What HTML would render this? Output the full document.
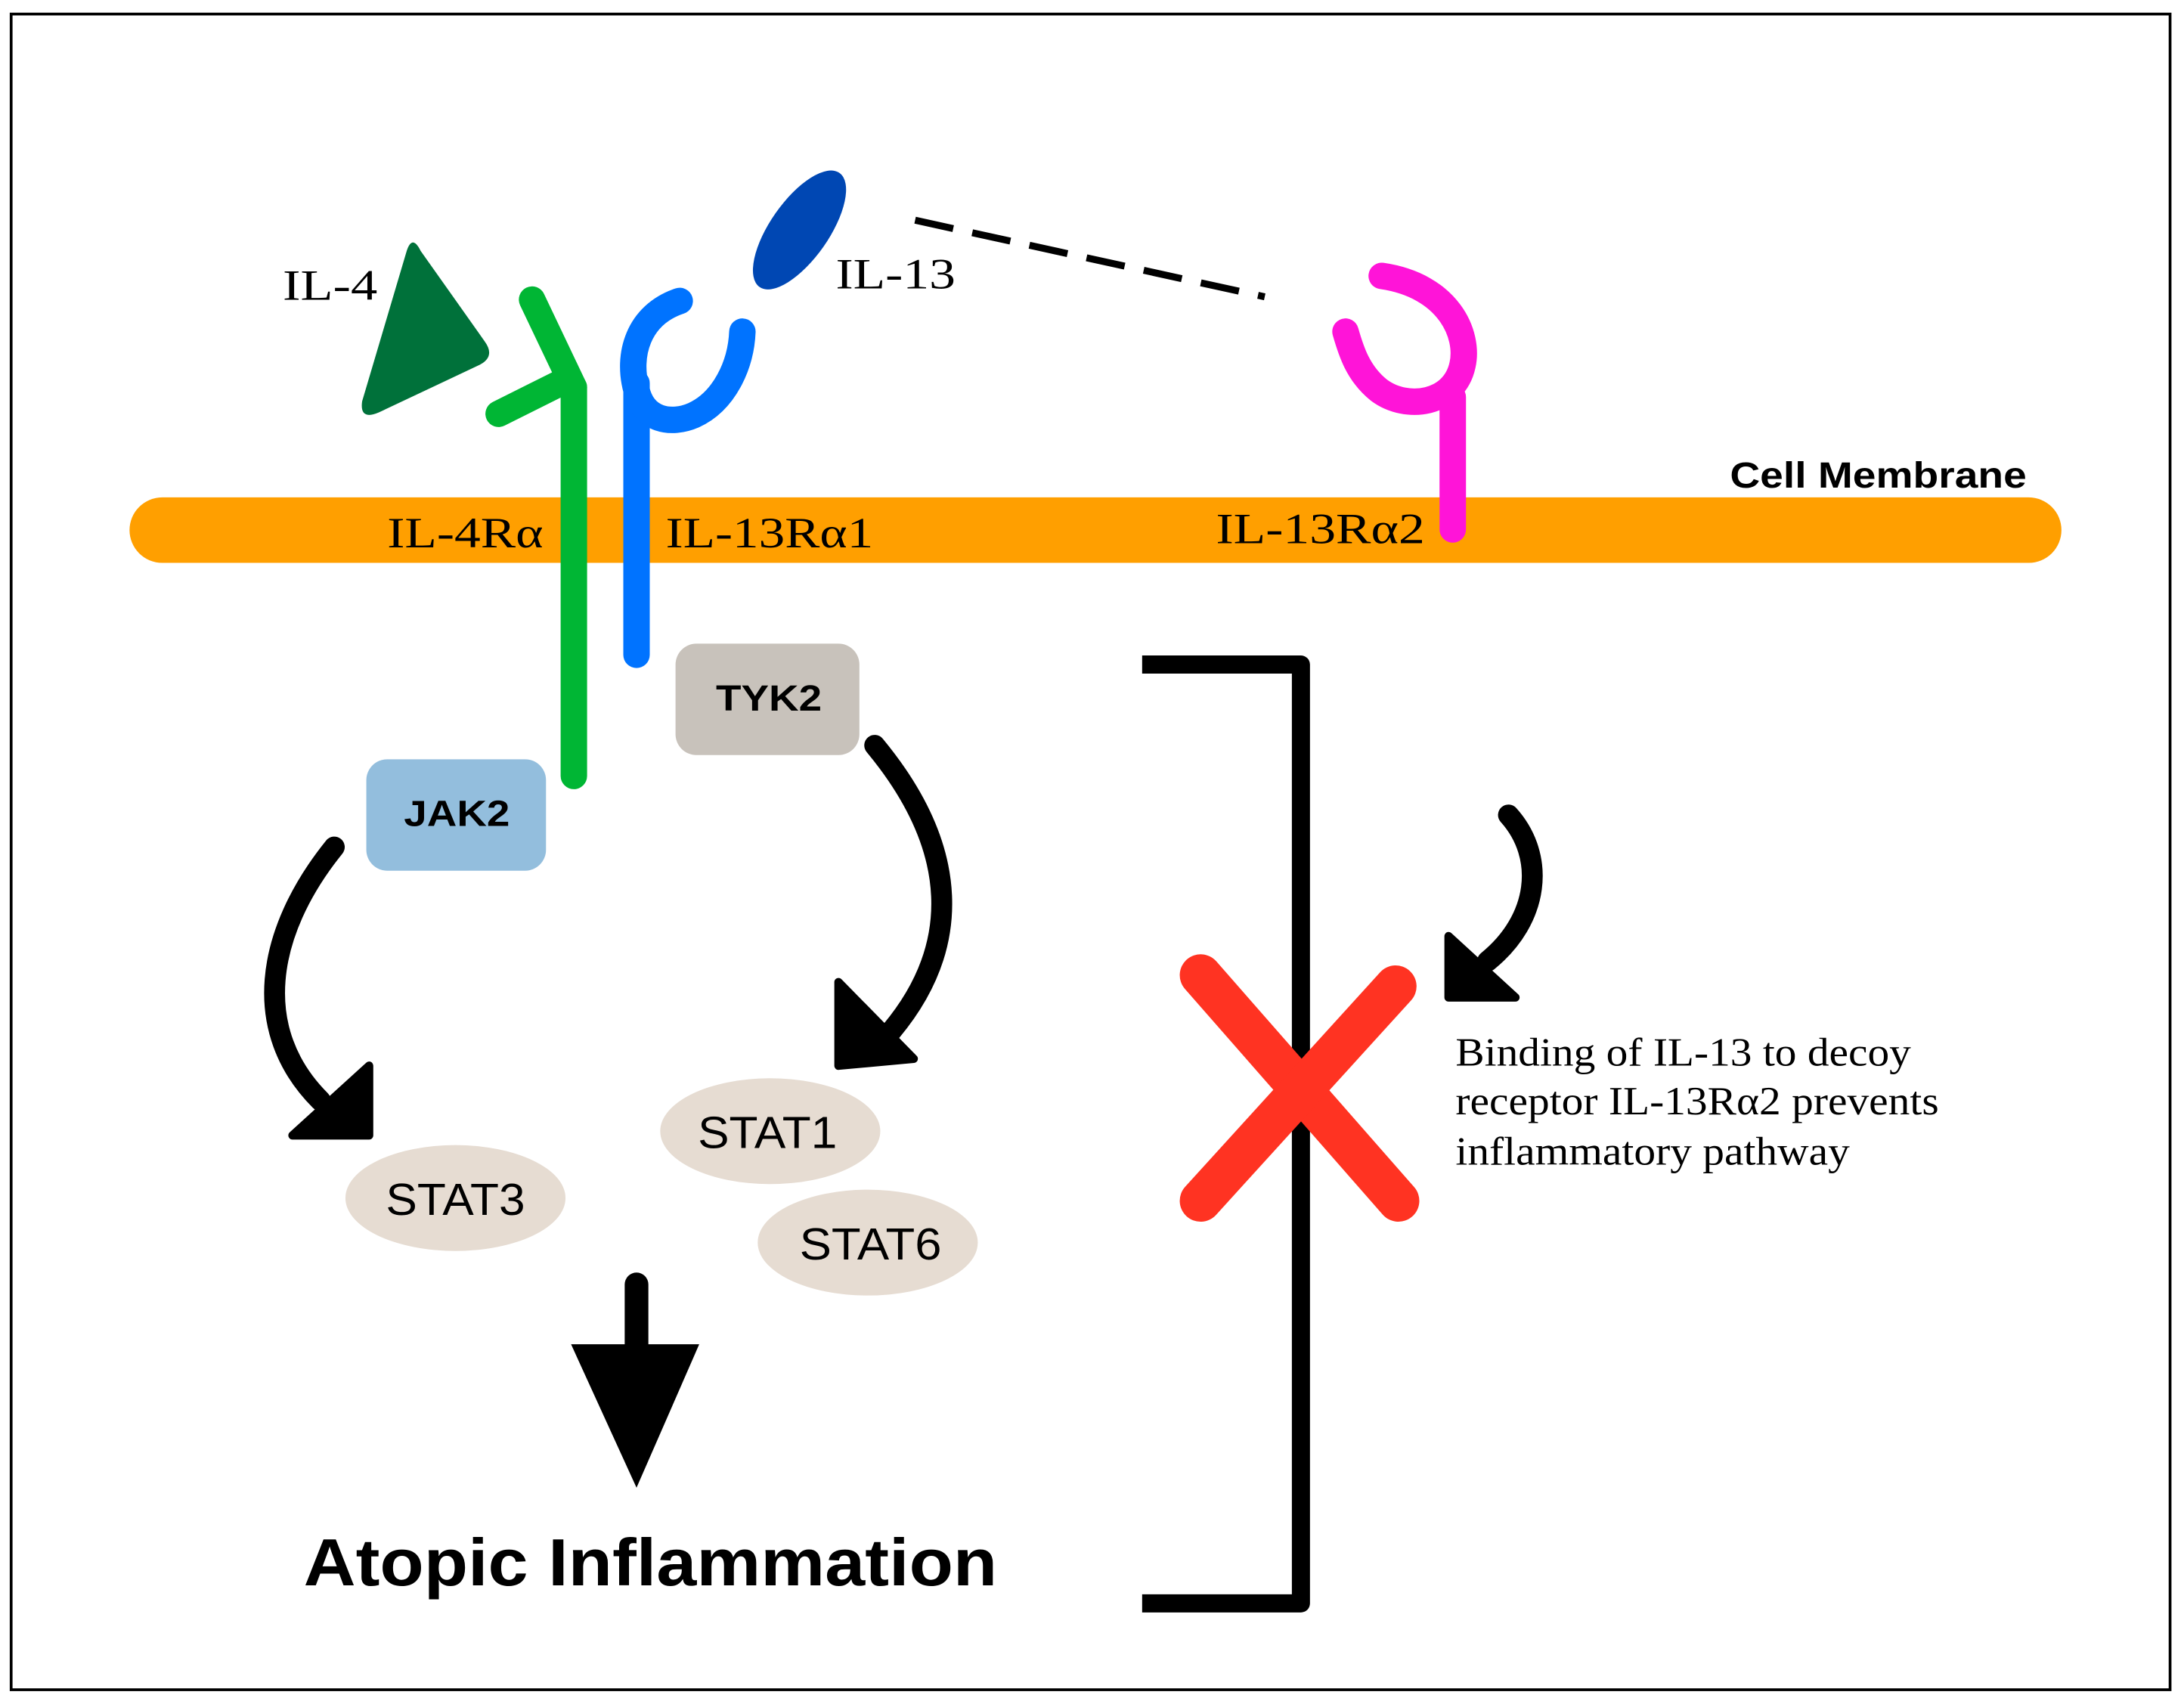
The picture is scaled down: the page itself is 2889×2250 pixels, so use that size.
<!DOCTYPE html>
<html><head><meta charset="utf-8"><style>html,body{margin:0;padding:0;background:#fff}svg{display:block}</style></head>
<body>
<svg width="2889" height="2250" viewBox="0 0 1568 1221" xmlns="http://www.w3.org/2000/svg">
<rect x="0" y="0" width="1568" height="1221" fill="#fff"/>
<rect x="8" y="10" width="1550" height="1203" fill="none" stroke="#000" stroke-width="2"/>
<rect x="93" y="357" width="1387" height="47" rx="23.5" fill="#FF9F00"/>
<path d="M292,180 Q296,168 302,180 L348,245 Q356,256 344,262 L272,296 Q258,302 260,288 Z" fill="#00713A"/>
<g stroke="#00B634" stroke-width="19" stroke-linecap="round" fill="none">
<line x1="412" y1="278" x2="412" y2="557"/>
<path d="M382,215 L412,278"/>
<path d="M358,297 L402,275"/>
</g>
<g stroke="#0073FF" stroke-width="19" stroke-linecap="round" fill="none">
<line x1="457" y1="275" x2="457" y2="470"/>
<path d="M488,216 C458,226 450,255 457,280 C462,302 482,305 498,298 C520,288 532,262 533,238"/>
</g>
<ellipse cx="574" cy="165" rx="21" ry="50" transform="rotate(35 574 165)" fill="#0047B3"/>
<line x1="657" y1="158" x2="908" y2="213" stroke="#000" stroke-width="5" stroke-dasharray="28,14"/>
<g stroke="#FF14D8" stroke-width="19" stroke-linecap="round" fill="none">
<line x1="1043" y1="285" x2="1043" y2="380"/>
<path d="M992,198 C1040,205 1055,240 1050,262 C1044,290 1010,295 990,280 C975,268 970,252 966,238"/>
</g>
<g font-family="Liberation Serif, serif" font-size="31" fill="#000" lengthAdjust="spacingAndGlyphs">
<text x="203" y="215" textLength="68" lengthAdjust="spacingAndGlyphs">IL-4</text>
<text x="600" y="207" textLength="86" lengthAdjust="spacingAndGlyphs">IL-13</text>
<text x="278" y="393" textLength="112" lengthAdjust="spacingAndGlyphs">IL-4Rα</text>
<text x="478" y="393" textLength="149" lengthAdjust="spacingAndGlyphs">IL-13Rα1</text>
<text x="873" y="390" textLength="150" lengthAdjust="spacingAndGlyphs">IL-13Rα2</text>
</g>
<text x="1242" y="350" font-family="Liberation Sans, sans-serif" font-weight="bold" font-size="26" textLength="213" lengthAdjust="spacingAndGlyphs">Cell Membrane</text>
<rect x="485" y="462" width="132" height="80" rx="15" fill="#C8C2BB"/>
<text x="514" y="510" font-family="Liberation Sans, sans-serif" font-weight="bold" font-size="26" textLength="76" lengthAdjust="spacingAndGlyphs">TYK2</text>
<rect x="263" y="545" width="129" height="80" rx="15" fill="#93BEDD"/>
<text x="290" y="593" font-family="Liberation Sans, sans-serif" font-weight="bold" font-size="26" textLength="76" lengthAdjust="spacingAndGlyphs">JAK2</text>
<g fill="#E6DCD2">
<ellipse cx="327" cy="860" rx="79" ry="38"/>
<ellipse cx="553" cy="812" rx="79" ry="38"/>
<ellipse cx="623" cy="892" rx="79" ry="38"/>
</g>
<g font-family="Liberation Sans, sans-serif" font-size="32">
<text x="277" y="872" textLength="100" lengthAdjust="spacingAndGlyphs">STAT3</text>
<text x="501" y="824" textLength="100" lengthAdjust="spacingAndGlyphs">STAT1</text>
<text x="574" y="904" textLength="102" lengthAdjust="spacingAndGlyphs">STAT6</text>
</g>
<g stroke="#000" stroke-width="15" stroke-linecap="round" fill="none">
<path d="M240,608 C190,670 180,740 230,790"/>
<path d="M628,535 C690,610 690,680 640,740"/>
<path d="M1083,585 C1110,615 1105,660 1068,690"/>
</g>
<g fill="#000" stroke="#000" stroke-width="6" stroke-linejoin="round">
<path d="M265,765 L265,815 L210,815 Z"/>
<path d="M602,705 L602,765 L656,760 Z"/>
<path d="M1040,672 L1040,716 L1088,716 Z"/>
</g>
<line x1="457" y1="922" x2="457" y2="975" stroke="#000" stroke-width="17" stroke-linecap="round"/>
<path d="M410,965 L502,965 L457,1068 Z" fill="#000"/>
<text x="218" y="1138" font-family="Liberation Sans, sans-serif" font-weight="bold" font-size="48" textLength="498" lengthAdjust="spacingAndGlyphs">Atopic Inflammation</text>
<path d="M820,477 L934,477 L934,1151 L820,1151" fill="none" stroke="#000" stroke-width="13" stroke-linejoin="round"/>
<g stroke="#FF3322" stroke-width="30" stroke-linecap="round">
<line x1="862" y1="700" x2="1004" y2="862"/>
<line x1="1002" y1="708" x2="862" y2="862"/>
</g>
<g font-family="Liberation Serif, serif" font-size="29">
<text x="1045" y="765" textLength="327" lengthAdjust="spacingAndGlyphs">Binding of IL-13 to decoy</text>
<text x="1045" y="800" textLength="347" lengthAdjust="spacingAndGlyphs">receptor IL-13Rα2 prevents</text>
<text x="1045" y="836" textLength="283" lengthAdjust="spacingAndGlyphs">inflammatory pathway</text>
</g>
</svg>
</body></html>
